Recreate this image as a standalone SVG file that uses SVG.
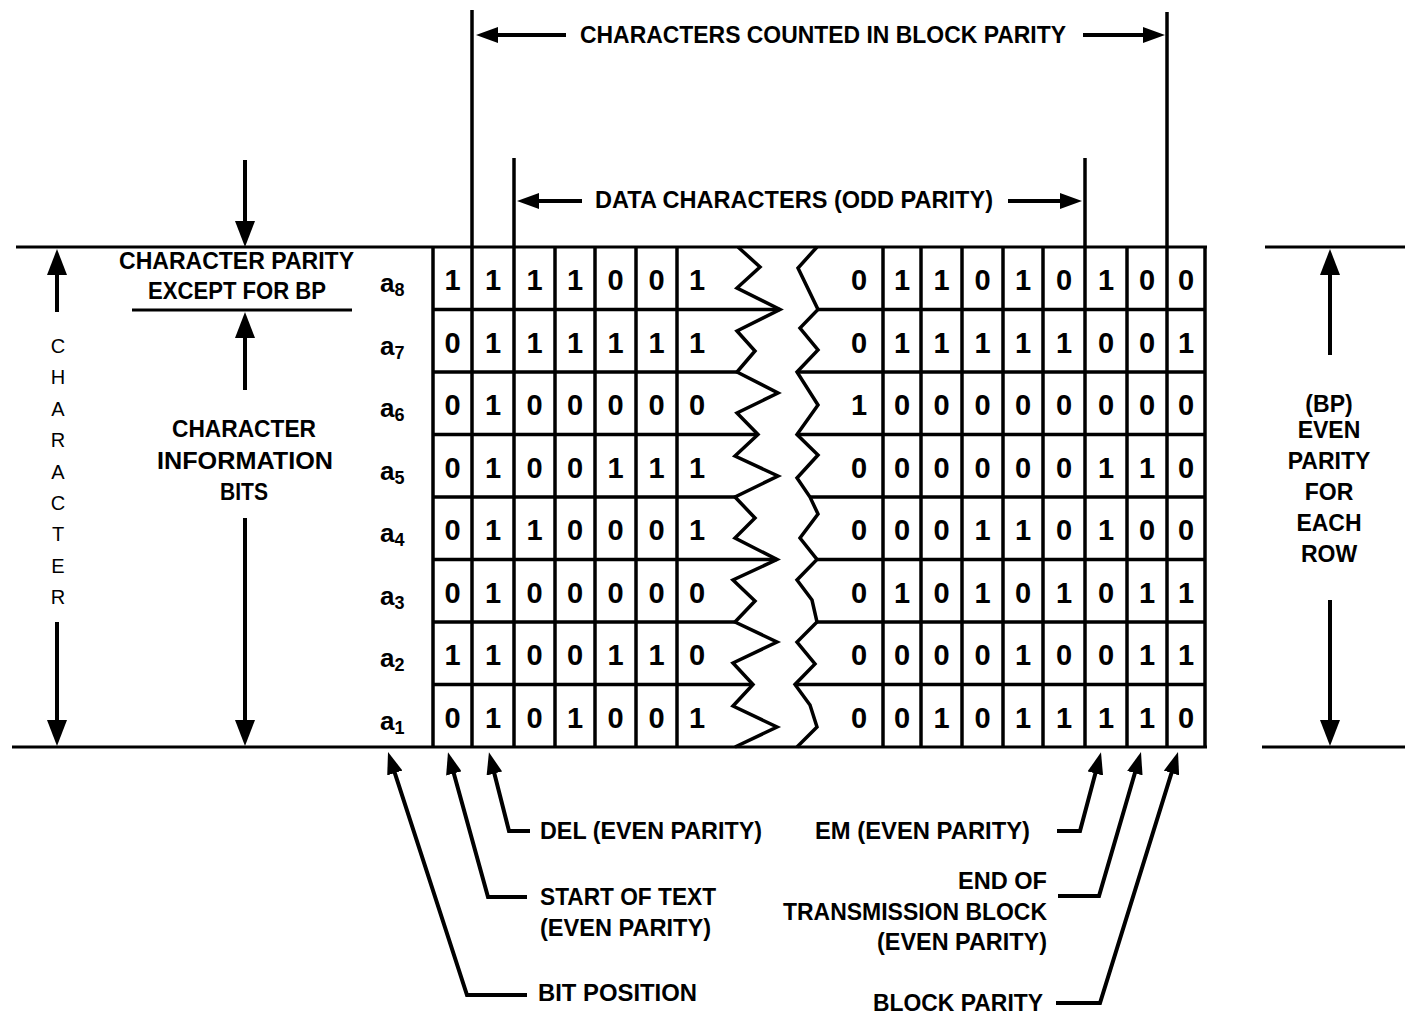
<svg xmlns="http://www.w3.org/2000/svg" width="1405" height="1016" viewBox="0 0 1405 1016">
<style>
.ln{stroke:#000;stroke-width:3.5;fill:none;stroke-linejoin:miter}
.lt{stroke:#000;stroke-width:3;fill:none}
.ar{stroke:#000;stroke-width:4;fill:none}
.t{font-family:"Liberation Sans",Arial,sans-serif;font-weight:bold;font-size:23px;fill:#000}
.v{font-family:"Liberation Sans",Arial,sans-serif;font-size:20px;fill:#000;text-anchor:middle}
.m{text-anchor:middle}
.d{font-family:"Liberation Sans",Arial,sans-serif;font-weight:bold;font-size:29px;fill:#000;text-anchor:middle}
.a{font-family:"Liberation Sans",Arial,sans-serif;font-weight:bold;font-size:26px;fill:#000}
.s{font-size:18px}
</style>
<defs>
<marker id="hb" viewBox="0 0 10 10" refX="4" refY="5" markerUnits="userSpaceOnUse" markerWidth="26" markerHeight="20" orient="auto" preserveAspectRatio="none"><path d="M0,0 L10,5 L0,10 z" fill="#000"/></marker>
<marker id="hm" viewBox="0 0 10 10" refX="4" refY="5" markerUnits="userSpaceOnUse" markerWidth="22" markerHeight="16" orient="auto" preserveAspectRatio="none"><path d="M0,0 L10,5 L0,10 z" fill="#000"/></marker>
<marker id="hs" viewBox="0 0 10 10" refX="4" refY="5" markerUnits="userSpaceOnUse" markerWidth="22" markerHeight="16" orient="auto" preserveAspectRatio="none"><path d="M0,0 L10,5 L0,10 z" fill="#000"/></marker>
</defs>
<rect width="1405" height="1016" fill="#fff"/>

<g id="baselines">
<line class="lt" x1="16" y1="247" x2="1207" y2="247"/>
<line class="lt" x1="12" y1="747" x2="1207" y2="747"/>
<line class="lt" x1="1265" y1="247" x2="1405" y2="247"/>
<line class="lt" x1="1262" y1="747" x2="1405" y2="747"/>
<line class="lt" x1="132" y1="310" x2="352" y2="310"/>
</g>

<g id="grid-left">
<line class="ln" x1="433" y1="247" x2="433" y2="747"/>
<line class="ln" x1="472" y1="247" x2="472" y2="747"/>
<line class="ln" x1="514" y1="247" x2="514" y2="747"/>
<line class="ln" x1="555" y1="247" x2="555" y2="747"/>
<line class="ln" x1="595" y1="247" x2="595" y2="747"/>
<line class="ln" x1="636" y1="247" x2="636" y2="747"/>
<line class="ln" x1="677" y1="247" x2="677" y2="747"/>
<line class="ln" x1="433" y1="309.5" x2="780" y2="309.5"/>
<line class="ln" x1="433" y1="372" x2="737" y2="372"/>
<line class="ln" x1="433" y1="434.5" x2="758" y2="434.5"/>
<line class="ln" x1="433" y1="497" x2="735" y2="497"/>
<line class="ln" x1="433" y1="559.5" x2="777" y2="559.5"/>
<line class="ln" x1="433" y1="622" x2="735" y2="622"/>
<line class="ln" x1="433" y1="684.5" x2="753" y2="684.5"/>
<polyline class="ln" points="738,247 760,267 737,288 780,309.5 737,331 755,351 737,372 778,393 737,413 758,434.5 735,456 778,476 735,497 755,518 735,538 777,559.5 733,580 755,601 735,622 777,642 733,663 753,684.5 733,706 777,727 735,747"/>
</g>

<g id="grid-right">
<polyline class="ln" points="817,247 798,268 818,309.5 800,328 818,350 797,372 818,405 797,434.5 818,455 797,478 810,497 818,514 800,538 817,559.5 797,580 812,600 817,622 797,642 815,664 795,684.5 810,705 817,727 797,747"/>
<line class="ln" x1="818" y1="309.5" x2="1205" y2="309.5"/>
<line class="ln" x1="797" y1="372" x2="1205" y2="372"/>
<line class="ln" x1="797" y1="434.5" x2="1205" y2="434.5"/>
<line class="ln" x1="810" y1="497" x2="1205" y2="497"/>
<line class="ln" x1="817" y1="559.5" x2="1205" y2="559.5"/>
<line class="ln" x1="817" y1="622" x2="1205" y2="622"/>
<line class="ln" x1="795" y1="684.5" x2="1205" y2="684.5"/>
<line class="ln" x1="883" y1="247" x2="883" y2="747"/>
<line class="ln" x1="921" y1="247" x2="921" y2="747"/>
<line class="ln" x1="962" y1="247" x2="962" y2="747"/>
<line class="ln" x1="1003" y1="247" x2="1003" y2="747"/>
<line class="ln" x1="1043" y1="247" x2="1043" y2="747"/>
<line class="ln" x1="1085" y1="247" x2="1085" y2="747"/>
<line class="ln" x1="1127" y1="247" x2="1127" y2="747"/>
<line class="ln" x1="1167" y1="247" x2="1167" y2="747"/>
<line class="ln" x1="1205" y1="247" x2="1205" y2="747"/>
</g>

<g id="bits-left" class="d">
<text x="452.5" y="290">1</text><text x="493" y="290">1</text><text x="534.5" y="290">1</text><text x="575" y="290">1</text><text x="615.5" y="290">0</text><text x="656.5" y="290">0</text><text x="697" y="290">1</text>
<text x="452.5" y="352.5">0</text><text x="493" y="352.5">1</text><text x="534.5" y="352.5">1</text><text x="575" y="352.5">1</text><text x="615.5" y="352.5">1</text><text x="656.5" y="352.5">1</text><text x="697" y="352.5">1</text>
<text x="452.5" y="415">0</text><text x="493" y="415">1</text><text x="534.5" y="415">0</text><text x="575" y="415">0</text><text x="615.5" y="415">0</text><text x="656.5" y="415">0</text><text x="697" y="415">0</text>
<text x="452.5" y="477.5">0</text><text x="493" y="477.5">1</text><text x="534.5" y="477.5">0</text><text x="575" y="477.5">0</text><text x="615.5" y="477.5">1</text><text x="656.5" y="477.5">1</text><text x="697" y="477.5">1</text>
<text x="452.5" y="540">0</text><text x="493" y="540">1</text><text x="534.5" y="540">1</text><text x="575" y="540">0</text><text x="615.5" y="540">0</text><text x="656.5" y="540">0</text><text x="697" y="540">1</text>
<text x="452.5" y="602.5">0</text><text x="493" y="602.5">1</text><text x="534.5" y="602.5">0</text><text x="575" y="602.5">0</text><text x="615.5" y="602.5">0</text><text x="656.5" y="602.5">0</text><text x="697" y="602.5">0</text>
<text x="452.5" y="665">1</text><text x="493" y="665">1</text><text x="534.5" y="665">0</text><text x="575" y="665">0</text><text x="615.5" y="665">1</text><text x="656.5" y="665">1</text><text x="697" y="665">0</text>
<text x="452.5" y="727.5">0</text><text x="493" y="727.5">1</text><text x="534.5" y="727.5">0</text><text x="575" y="727.5">1</text><text x="615.5" y="727.5">0</text><text x="656.5" y="727.5">0</text><text x="697" y="727.5">1</text>
</g>

<g id="bits-right" class="d">
<text x="859" y="290">0</text><text x="902" y="290">1</text><text x="941.5" y="290">1</text><text x="982.5" y="290">0</text><text x="1023" y="290">1</text><text x="1064" y="290">0</text><text x="1106" y="290">1</text><text x="1147" y="290">0</text><text x="1186" y="290">0</text>
<text x="859" y="352.5">0</text><text x="902" y="352.5">1</text><text x="941.5" y="352.5">1</text><text x="982.5" y="352.5">1</text><text x="1023" y="352.5">1</text><text x="1064" y="352.5">1</text><text x="1106" y="352.5">0</text><text x="1147" y="352.5">0</text><text x="1186" y="352.5">1</text>
<text x="859" y="415">1</text><text x="902" y="415">0</text><text x="941.5" y="415">0</text><text x="982.5" y="415">0</text><text x="1023" y="415">0</text><text x="1064" y="415">0</text><text x="1106" y="415">0</text><text x="1147" y="415">0</text><text x="1186" y="415">0</text>
<text x="859" y="477.5">0</text><text x="902" y="477.5">0</text><text x="941.5" y="477.5">0</text><text x="982.5" y="477.5">0</text><text x="1023" y="477.5">0</text><text x="1064" y="477.5">0</text><text x="1106" y="477.5">1</text><text x="1147" y="477.5">1</text><text x="1186" y="477.5">0</text>
<text x="859" y="540">0</text><text x="902" y="540">0</text><text x="941.5" y="540">0</text><text x="982.5" y="540">1</text><text x="1023" y="540">1</text><text x="1064" y="540">0</text><text x="1106" y="540">1</text><text x="1147" y="540">0</text><text x="1186" y="540">0</text>
<text x="859" y="602.5">0</text><text x="902" y="602.5">1</text><text x="941.5" y="602.5">0</text><text x="982.5" y="602.5">1</text><text x="1023" y="602.5">0</text><text x="1064" y="602.5">1</text><text x="1106" y="602.5">0</text><text x="1147" y="602.5">1</text><text x="1186" y="602.5">1</text>
<text x="859" y="665">0</text><text x="902" y="665">0</text><text x="941.5" y="665">0</text><text x="982.5" y="665">0</text><text x="1023" y="665">1</text><text x="1064" y="665">0</text><text x="1106" y="665">0</text><text x="1147" y="665">1</text><text x="1186" y="665">1</text>
<text x="859" y="727.5">0</text><text x="902" y="727.5">0</text><text x="941.5" y="727.5">1</text><text x="982.5" y="727.5">0</text><text x="1023" y="727.5">1</text><text x="1064" y="727.5">1</text><text x="1106" y="727.5">1</text><text x="1147" y="727.5">1</text><text x="1186" y="727.5">0</text>
</g>

<g id="bit-labels" class="a">
<text x="380" y="292">a<tspan class="s" dy="4">8</tspan></text>
<text x="380" y="354.5">a<tspan class="s" dy="4">7</tspan></text>
<text x="380" y="417">a<tspan class="s" dy="4">6</tspan></text>
<text x="380" y="479.5">a<tspan class="s" dy="4">5</tspan></text>
<text x="380" y="542">a<tspan class="s" dy="4">4</tspan></text>
<text x="380" y="604.5">a<tspan class="s" dy="4">3</tspan></text>
<text x="380" y="667">a<tspan class="s" dy="4">2</tspan></text>
<text x="380" y="729.5">a<tspan class="s" dy="4">1</tspan></text>
</g>

<g id="label-character" class="v">
<text x="58" y="353">C</text>
<text x="58" y="384">H</text>
<text x="58" y="416">A</text>
<text x="58" y="447">R</text>
<text x="58" y="479">A</text>
<text x="58" y="510">C</text>
<text x="58" y="541">T</text>
<text x="58" y="573">E</text>
<text x="58" y="604">R</text>
</g>

<g id="label-char-parity" class="t">
<text x="119" y="269" textLength="235" lengthAdjust="spacingAndGlyphs">CHARACTER PARITY</text>
<text x="148" y="299" textLength="178" lengthAdjust="spacingAndGlyphs">EXCEPT FOR BP</text>
</g>
<g id="label-info-bits" class="t">
<text x="172" y="437" textLength="144" lengthAdjust="spacingAndGlyphs">CHARACTER</text>
<text x="157" y="469" textLength="176" lengthAdjust="spacingAndGlyphs">INFORMATION</text>
<text x="220" y="500" textLength="48" lengthAdjust="spacingAndGlyphs">BITS</text>
</g>
<g id="label-bp" class="t m">
<text x="1329" y="412">(BP)</text>
<text x="1329" y="438">EVEN</text>
<text x="1329" y="469">PARITY</text>
<text x="1329" y="500">FOR</text>
<text x="1329" y="531">EACH</text>
<text x="1329" y="562">ROW</text>
</g>
<g id="label-counted" class="t">
<text x="580" y="43" textLength="486" lengthAdjust="spacingAndGlyphs">CHARACTERS COUNTED IN BLOCK PARITY</text>
</g>
<g id="label-data" class="t">
<text x="595" y="208" textLength="398" lengthAdjust="spacingAndGlyphs">DATA CHARACTERS (ODD PARITY)</text>
</g>
<g id="label-del" class="t">
<text x="540" y="839" textLength="222" lengthAdjust="spacingAndGlyphs">DEL (EVEN PARITY)</text>
</g>
<g id="label-stx" class="t">
<text x="540" y="905" textLength="176" lengthAdjust="spacingAndGlyphs">START OF TEXT</text>
<text x="540" y="936" textLength="171" lengthAdjust="spacingAndGlyphs">(EVEN PARITY)</text>
</g>
<g id="label-bitpos" class="t">
<text x="538" y="1001" textLength="159" lengthAdjust="spacingAndGlyphs">BIT  POSITION</text>
</g>
<g id="label-em" class="t">
<text x="815" y="839" textLength="215" lengthAdjust="spacingAndGlyphs">EM (EVEN PARITY)</text>
</g>
<g id="label-etb" class="t">
<text x="958" y="889" textLength="89" lengthAdjust="spacingAndGlyphs">END OF</text>
<text x="783" y="920" textLength="264" lengthAdjust="spacingAndGlyphs">TRANSMISSION BLOCK</text>
<text x="877" y="950" textLength="170" lengthAdjust="spacingAndGlyphs">(EVEN PARITY)</text>
</g>
<g id="label-blockparity" class="t">
<text x="873" y="1011" textLength="170" lengthAdjust="spacingAndGlyphs">BLOCK PARITY</text>
</g>

<g id="connectors">
<line class="ln" x1="472" y1="10" x2="472" y2="247"/>
<line class="ln" x1="1167" y1="12" x2="1167" y2="247"/>
<line class="ln" x1="514" y1="158" x2="514" y2="247"/>
<line class="ln" x1="1085" y1="158" x2="1085" y2="247"/>
<line class="ar" x1="566" y1="35" x2="489.2" y2="35" marker-end="url(#hm)"/>
<line class="ar" x1="1083" y1="35" x2="1151.8" y2="35" marker-end="url(#hm)"/>
<line class="ar" x1="582" y1="201" x2="530.2" y2="201" marker-end="url(#hm)"/>
<line class="ar" x1="1008" y1="201" x2="1068.8" y2="201" marker-end="url(#hm)"/>
<line class="ar" x1="245" y1="160" x2="245" y2="231.4" marker-end="url(#hb)"/>
<line class="ar" x1="245" y1="390" x2="245" y2="327.6" marker-end="url(#hb)"/>
<line class="ar" x1="245" y1="518" x2="245" y2="730.4" marker-end="url(#hb)"/>
<line class="ar" x1="57" y1="312" x2="57" y2="264.6" marker-end="url(#hb)"/>
<line class="ar" x1="57" y1="622" x2="57" y2="730.4" marker-end="url(#hb)"/>
<line class="ar" x1="1330" y1="355" x2="1330" y2="264.6" marker-end="url(#hb)"/>
<line class="ar" x1="1330" y1="600" x2="1330" y2="730.4" marker-end="url(#hb)"/>
<polyline class="ar" points="527,995 467,995 392.1,764.6" marker-end="url(#hs)"/>
<polyline class="ar" points="527,897 488,897 451.5,765" marker-end="url(#hs)"/>
<polyline class="ar" points="530,831 509,831 492.2,765" marker-end="url(#hs)"/>
<polyline class="ar" points="1057,831 1080,831 1097.6,765" marker-end="url(#hs)"/>
<polyline class="ar" points="1058,896 1099,896 1137.3,764.7" marker-end="url(#hs)"/>
<polyline class="ar" points="1056,1003 1100,1003 1174.1,764.6" marker-end="url(#hs)"/>
</g>
</svg>
